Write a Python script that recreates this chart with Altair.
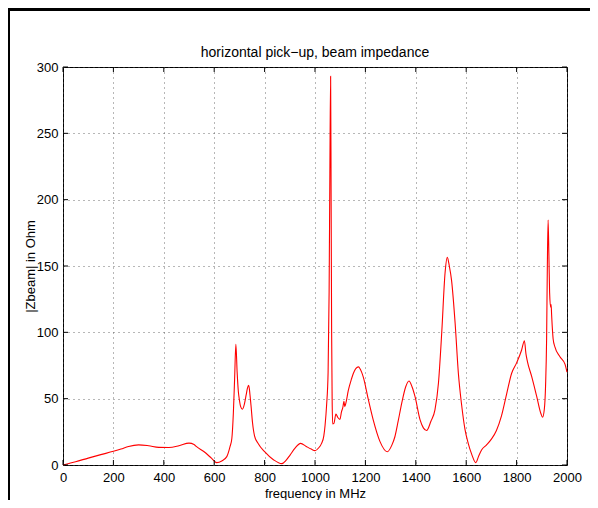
import altair as alt
import pandas as pd

freq = [0, 20, 50, 100, 150, 200, 230, 260, 300, 340, 380, 420, 460, 500, 520, 530,
        560, 590, 610, 630, 650, 663, 670, 676, 681, 686, 691, 696, 700, 705, 712,
        720, 727, 732, 737, 742, 746, 752, 760, 775, 800, 835, 868, 885, 901, 920,
        943, 965, 985, 1000, 1015, 1026, 1035, 1040, 1046, 1052, 1056, 1059, 1062,
        1064, 1066, 1068, 1070, 1075, 1083, 1090, 1099, 1105, 1110, 1115, 1118, 1123,
        1132, 1145, 1152, 1172, 1185, 1192, 1212, 1231, 1258, 1287, 1305, 1317, 1330,
        1344, 1360, 1373, 1385, 1397, 1417, 1430, 1443, 1460, 1476, 1490, 1503, 1516,
        1525, 1533, 1542, 1556, 1569, 1582, 1595, 1608, 1622, 1638, 1650, 1661, 1680,
        1700, 1720, 1740, 1761, 1780, 1800, 1820, 1831, 1837, 1843, 1860, 1880, 1896,
        1903, 1910, 1915, 1919, 1922, 1925, 1928, 1931, 1935, 1937, 1939, 1945, 1952,
        1972, 1992, 2000]
zbeam = [0, 1.0, 2.5, 5.2, 7.8, 10.3, 12, 14, 15.2, 14.5, 13.3, 13.2, 14.5, 16.5, 15.5, 13.8,
         10, 5, 1.8, 3.0, 6.3, 14, 20, 39, 65, 91, 70, 55, 49, 44, 42,
         46, 53, 58, 60, 53, 45, 32, 22, 16, 10, 4, 1.0, 3.5, 7.5, 12.5,
         16.3, 14, 12, 10.8, 13, 16.3, 22, 30, 45, 70, 130, 220, 293,
         200, 100, 50, 31, 31.4, 38.4, 36, 34.4, 40, 43, 48, 44, 47,
         56, 65, 69, 74, 70, 66, 49, 34, 17.6, 10, 15, 21.3, 33,
         46.5, 59, 63.3, 59, 51.5, 34, 28, 26, 33, 41.5, 62, 100, 144.5,
         156.5, 150, 139, 107, 69, 45, 27, 16.3, 8, 1.8, 7, 11.3, 15,
         19.5, 26, 37, 54, 69, 77, 86.7, 93.7, 84, 78, 66.6, 51.5, 39,
         36, 42, 60, 94, 150, 184.7, 160, 130, 119, 121, 113, 95, 89,
         81.6, 76, 70]

x_ticks = [0, 200, 400, 600, 800, 1000, 1200, 1400, 1600, 1800, 2000]
y_ticks = [0, 50, 100, 150, 200, 250, 300]
title_text = ["horizontal pick\u2212up, beam impedance"]

W, H = 504, 398
FONT = "Liberation Sans"

df = pd.DataFrame({"f": freq, "z": zbeam})
dfx = pd.DataFrame({"t": x_ticks})
dfy = pd.DataFrame({"t": y_ticks})
dft = pd.DataFrame({"title": title_text})

xscale = alt.Scale(domain=[0, 2000], nice=False, zero=False)
yscale = alt.Scale(domain=[0, 300], nice=False, zero=False)

GRID = dict(grid=True, gridDash=[1, 4], gridColor="#555", gridWidth=1, gridOpacity=0.85)

xaxis = alt.Axis(values=x_ticks, format="d", title="frequency in MHz", **GRID,
                 domain=False, ticks=False, tickSize=0,
                 labelPadding=6, labelFont=FONT, labelFontSize=13, labelColor="#000",
                 titleFont=FONT, titleFontSize=13, titleFontWeight="normal", titleColor="#000",
                 titleX=W / 2, titleY=28, titleBaseline="middle", titleAlign="center")
yaxis = alt.Axis(values=y_ticks, format="d", title="|Zbeam| in Ohm", **GRID,
                 domain=False, ticks=False, tickSize=0,
                 labelPadding=5, labelFont=FONT, labelFontSize=13, labelColor="#000",
                 titleFont=FONT, titleFontSize=13, titleFontWeight="normal", titleColor="#000",
                 titleX=-33, titleY=H / 2, titleAngle=270, titleBaseline="middle",
                 titleAlign="center")

line = alt.Chart(df).mark_line(color="#ff0000", strokeWidth=1.1, interpolate="monotone").encode(
    x=alt.X("f:Q", scale=xscale, axis=xaxis),
    y=alt.Y("z:Q", scale=yscale, axis=yaxis),
)

tick_style = dict(color="#000", strokeWidth=1)
bottom_ticks = alt.Chart(dfx).mark_rule(**tick_style).encode(
    x=alt.X("t:Q", scale=xscale), y=alt.value(H), y2=alt.value(H - 5))
top_ticks = alt.Chart(dfx).mark_rule(**tick_style).encode(
    x=alt.X("t:Q", scale=xscale), y=alt.value(0), y2=alt.value(5))
left_ticks = alt.Chart(dfy).mark_rule(**tick_style).encode(
    y=alt.Y("t:Q", scale=yscale), x=alt.value(0), x2=alt.value(5))
right_ticks = alt.Chart(dfy).mark_rule(**tick_style).encode(
    y=alt.Y("t:Q", scale=yscale), x=alt.value(W), x2=alt.value(W - 5))

title_mark = alt.Chart(dft).mark_text(font=FONT, fontSize=14, color="#000", align="center",
                                      baseline="middle").encode(
    text="title:N", x=alt.value(W / 2), y=alt.value(-14))

frame_top = alt.Chart(dfx).mark_rule(color="#000", strokeWidth=2.5).encode(
    x=alt.value(-55), x2=alt.value(540), y=alt.value(-57.8))
frame_left = alt.Chart(dfx).mark_rule(color="#000", strokeWidth=2).encode(
    x=alt.value(-54), y=alt.value(-59), y2=alt.value(440))

chart = alt.layer(line, bottom_ticks, top_ticks, left_ticks, right_ticks, title_mark,
                  frame_top, frame_left).properties(
    width=W, height=H,
    autosize=alt.AutoSizeParams(type="none"),
    padding={"left": 55, "top": 59, "right": 23, "bottom": 35},
    background="#ffffff",
).configure_view(stroke="#000", strokeWidth=1).configure_axis(labelFlush=False)

chart.save("out.html", embed_options={"renderer": "svg", "actions": False})
